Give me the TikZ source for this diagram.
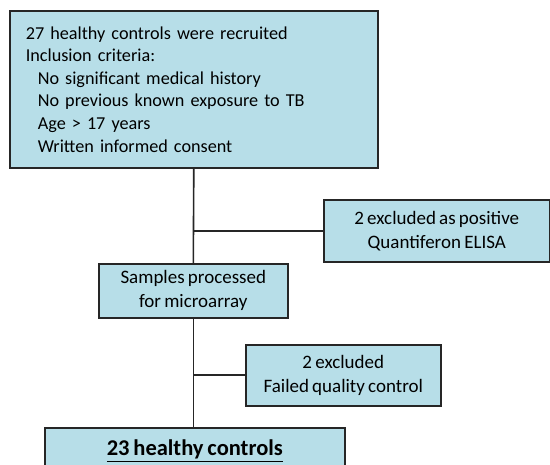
\documentclass[tikz,border=0pt]{standalone}
\usepackage{fontspec}
\setmainfont{Carlito}[WordSpace=0.75]
\begin{document}
\begin{tikzpicture}[x=1pt,y=-1pt,
  box/.style={draw=black!85, line width=1.6pt, fill=boxblue, anchor=north west,
    inner sep=0pt, align=center, font=\fontsize{19}{24}\selectfont},
  link/.style={draw=black!85, line width=1.6pt}]
\definecolor{boxblue}{HTML}{B7DEE8}
\clip (0,0) rectangle (550,465);
\fill[white] (0,0) rectangle (550,465);

\node[box, minimum width=368, minimum height=157, text width=336, align=left,
      font=\fontsize{18.2}{22.6}\selectfont] (recruit) at (9,10)
  {27 healthy controls were recruited\\
   Inclusion criteria:\\
   \hspace*{12pt}No significant medical history\\
   \hspace*{12pt}No previous known exposure to TB\\
   \hspace*{12pt}Age > 17 years\\
   \hspace*{12pt}Written informed consent};

\node[box, minimum width=226, minimum height=62] (elisa) at (323,199)
  {2 excluded as positive\\Quantiferon ELISA};

\node[box, minimum width=189, minimum height=54] (samples) at (98,263)
  {Samples processed\\for microarray};

\node[box, minimum width=195, minimum height=61] (qc) at (245,344)
  {2 excluded\\Failed quality control};

\node[box, minimum width=300, minimum height=46, font=\fontsize{22.5}{26}\selectfont] (final) at (44,427)
  {\textbf{\underline{23 healthy controls}}};

\draw[link] (recruit.south) -- (samples.north);
\draw[link] (samples.south) -- (final.north -| samples.south);
\draw[link] (elisa.west) -- (elisa.west -| recruit.south);
\draw[link] (qc.west) -- (qc.west -| samples.south);
\end{tikzpicture}
\end{document}
